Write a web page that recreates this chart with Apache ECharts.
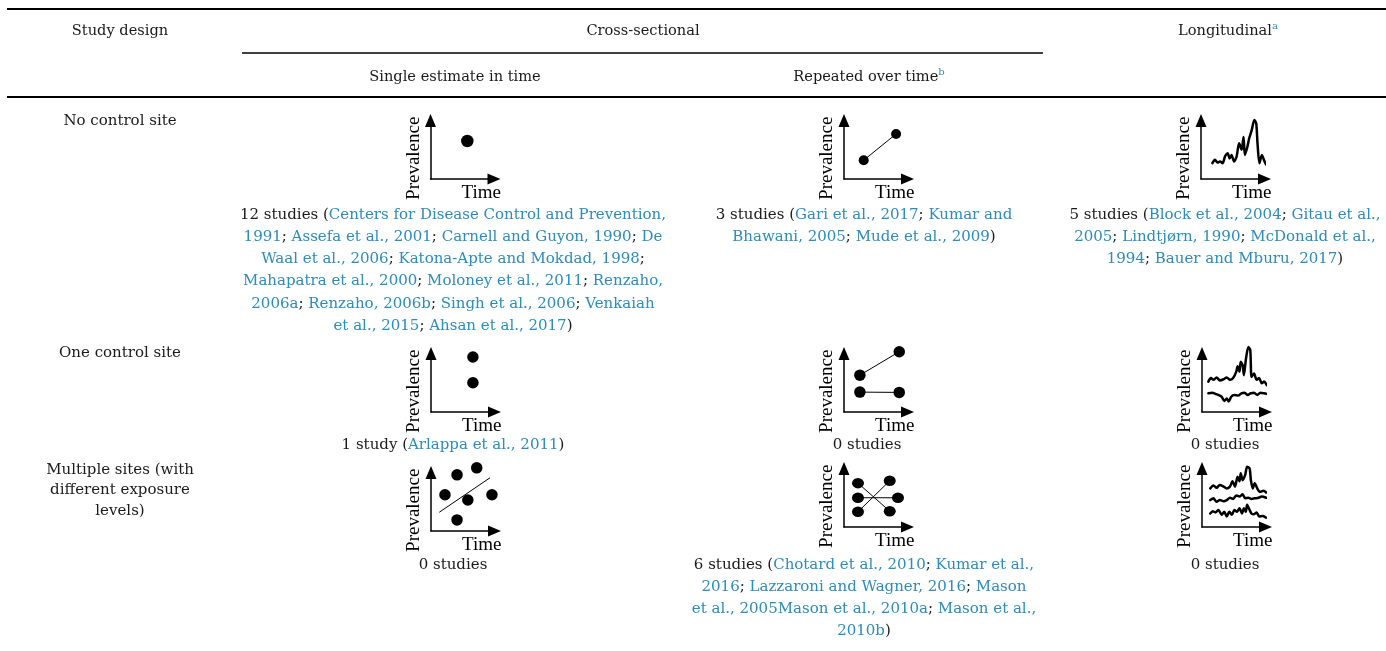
<!DOCTYPE html>
<html><head><meta charset="utf-8">
<script src="https://cdn.jsdelivr.net/npm/echarts@6/dist/echarts.min.js"></script>
<style>html,body{margin:0;padding:0;background:#fff}#c{width:1386px;height:651px}</style>
</head><body><div id="c"></div><script>
// ---------- table text ----------
const headerTop = ['Study design', 'Cross-sectional', 'Longitudinal'];
const headerSup = ['a', 'b'];
const headerSub = ['Single estimate in time', 'Repeated over time'];
const rowLabels = [
  ['No control site'],
  ['One control site'],
  ['Multiple sites (with', 'different exposure', 'levels)']
];
// [..] marks a linked (blue) reference
const r1c1Text = [
  '12 studies ([Centers for Disease Control and Prevention,]',
  '[1991]; [Assefa et al., 2001]; [Carnell and Guyon, 1990]; [De]',
  '[Waal et al., 2006]; [Katona-Apte and Mokdad, 1998];',
  '[Mahapatra et al., 2000]; [Moloney et al., 2011]; [Renzaho,]',
  '[2006a]; [Renzaho, 2006b]; [Singh et al., 2006]; [Venkaiah]',
  '[et al., 2015]; [Ahsan et al., 2017])'
];
const r1c2Text = ['3 studies ([Gari et al., 2017]; [Kumar and]', '[Bhawani, 2005]; [Mude et al., 2009])'];
const r1c3Text = ['5 studies ([Block et al., 2004]; [Gitau et al.,]', '[2005]; [Lindtjørn, 1990]; [McDonald et al.,]', '[1994]; [Bauer and Mburu, 2017])'];
const r2c1Text = ['1 study ([Arlappa et al., 2011])'];
const r2c2Text = ['0 studies'];
const r2c3Text = ['0 studies'];
const r3c1Text = ['0 studies'];
const r3c2Text = ['6 studies ([Chotard et al., 2010]; [Kumar et al.,]', '[2016]; [Lazzaroni and Wagner, 2016]; [Mason]', '[et al., 2005Mason et al., 2010a]; [Mason et al.,]', '[2010b])'];
const r3c3Text = ['0 studies'];
const axisNames = ['Time', 'Prevalence'];

// ---------- mini-chart data (0–10 schematic scale) ----------
const r1c1Points = [[5.8, 6.5]];
const r1c2Line = [[3.1, 3.2], [8.2, 7.7]];
const r1c3Wave = [[1.8,2.7],[2.2,3.3],[2.6,2.8],[3.0,3.0],[3.4,2.7],[3.8,3.9],[4.2,4.4],[4.5,3.5],[4.8,4.1],[5.2,3.0],[5.6,3.8],[6.0,6.1],[6.4,5.0],[6.7,7.2],[6.9,4.1],[7.3,5.5],[7.6,7.0],[8.0,8.4],[8.4,10.1],[8.7,9.5],[8.9,6.1],[9.2,2.7],[9.6,4.1],[9.9,3.3],[10.3,2.4],[10.9,2.1],[11.4,1.7]];
const r2c1Points = [[6.6, 9.4], [6.6, 5.0]];
const r2c2LineA = [[2.5, 6.3], [8.7, 10.3]];
const r2c2LineB = [[2.5, 3.4], [8.7, 3.35]];
const r2c3WaveA = [[1.0,5.2],[1.4,5.8],[1.8,5.5],[2.3,5.9],[2.8,5.4],[3.4,5.6],[3.9,5.9],[4.4,5.5],[4.9,5.8],[5.4,6.9],[5.6,7.8],[5.9,6.9],[6.1,8.6],[6.4,8.0],[6.6,6.3],[6.9,8.9],[7.3,11.1],[7.6,10.6],[7.8,6.0],[8.2,6.6],[8.6,5.5],[9.0,5.8],[9.4,4.9],[9.8,5.2],[10.2,4.6]];
const r2c3WaveB = [[1.0,3.2],[1.6,3.3],[2.1,3.1],[2.6,2.9],[3.1,2.6],[3.5,1.9],[3.9,2.3],[4.2,1.8],[4.6,2.6],[5.1,2.9],[5.7,2.8],[6.2,3.2],[6.7,3.3],[7.2,2.9],[7.7,3.2],[8.2,3.3],[8.7,2.9],[9.2,3.3],[9.8,3.2],[10.2,3.1]];
const r3c1Points = [[4.1,9.6],[7.2,10.8],[2.2,6.2],[5.8,5.3],[9.6,6.2],[4.1,1.9]];
const r3c1Trend = [[1.3,3.2],[9.3,9.1]];
const r3c2LineA = [[2.2,7.5],[7.2,2.7]];
const r3c2LineB = [[2.2,2.6],[7.2,7.9]];
const r3c2LineC = [[2.2,5.0],[8.5,5.0]];
const r3c3WaveA = [[1.3,6.6],[1.8,7.1],[2.3,6.7],[2.8,7.2],[3.4,6.9],[3.9,6.6],[4.4,6.9],[4.8,7.8],[5.2,6.9],[5.6,8.6],[5.9,7.8],[6.1,9.2],[6.4,8.0],[6.8,8.9],[7.1,10.3],[7.5,10.0],[7.7,8.0],[8.0,6.6],[8.3,7.5],[8.7,6.6],[9.1,6.0],[9.7,6.2],[10.1,5.9]];
const r3c3WaveB = [[1.3,4.6],[1.8,4.9],[2.3,4.3],[2.8,4.6],[3.4,4.4],[3.9,4.6],[4.4,5.0],[4.9,4.8],[5.4,5.4],[5.9,5.2],[6.4,5.6],[6.8,4.9],[7.3,5.0],[7.8,4.8],[8.3,4.9],[8.9,5.0],[9.4,5.2],[10.1,5.0]];
const r3c3WaveC = [[1.3,2.3],[1.7,2.7],[2.1,2.5],[2.6,2.9],[3.1,2.1],[3.5,2.6],[3.9,1.8],[4.3,2.6],[4.7,2.1],[5.1,2.9],[5.5,2.6],[5.9,3.2],[6.3,2.3],[6.6,3.2],[6.9,2.6],[7.1,3.8],[7.5,2.9],[7.8,2.3],[8.2,2.2],[8.6,2.5],[9.0,1.8],[9.6,1.9],[10.1,1.6]];

// ---------- styling / layout ----------
const FONT = '"DejaVu Serif", serif';
const INK = '#1a1a1a';
const LINK = '#2a8cc0';
const W = 63.5, H = 58.5;

function dot(data, size) {
  return {type: 'scatter', data: data, symbol: 'circle', symbolSize: size, itemStyle: {color: '#000', opacity: 1}, clip: false, silent: true};
}
function seg(data, size, width) {
  return {type: 'line', data: data, symbol: 'circle', symbolSize: size, showSymbol: true,
    lineStyle: {color: '#000', width: width}, itemStyle: {color: '#000', opacity: 1}, clip: false, silent: true};
}
function wave(data) {
  return {type: 'line', data: data, symbol: 'none', showSymbol: false, smooth: 0.25,
    lineStyle: {color: '#000', width: 2.5, join: 'round', cap: 'round'}, clip: false, silent: true};
}

const panels = [
  {o: [430.5, 179], s: [dot(r1c1Points, 12.5)]},
  {o: [844, 179], s: [seg(r1c2Line, 10, 1)]},
  {o: [1201, 179], s: [wave(r1c3Wave)]},
  {o: [431, 412], s: [dot(r2c1Points, 11.5)]},
  {o: [844, 412], s: [seg(r2c2LineA, 11.5, 1), seg(r2c2LineB, 11.5, 1)]},
  {o: [1202, 412], s: [wave(r2c3WaveA), wave(r2c3WaveB)]},
  {o: [431, 531], s: [{type: 'line', data: r3c1Trend, symbol: 'none', lineStyle: {color: '#000', width: 1}, clip: false, silent: true}, dot(r3c1Points, 11.5)]},
  {o: [844, 527], s: [seg(r3c2LineA, [12, 10.5], 1), seg(r3c2LineB, [12, 10.5], 1), seg(r3c2LineC, [12, 10.5], 1)]},
  {o: [1202, 527], s: [wave(r3c3WaveA), wave(r3c3WaveB), wave(r3c3WaveC)]}
];

const grid = [], xAxis = [], yAxis = [], series = [];
const axLine = {show: true, symbol: ['none', 'triangle'], symbolSize: [11, 13], lineStyle: {color: '#000', width: 1.5}};
const nameStyle = {fontFamily: '"Liberation Serif", serif', fontSize: 19, color: '#000'};
panels.forEach(function (p, i) {
  grid.push({left: p.o[0], top: p.o[1] - H, width: W, height: H});
  xAxis.push({gridIndex: i, type: 'value', min: 0, max: 10, axisLine: axLine, axisTick: {show: false},
    axisLabel: {show: false}, splitLine: {show: false}, name: axisNames[0], nameLocation: 'middle', nameGap: 5,
    nameTextStyle: Object.assign({padding: [0, 0, 0, 38]}, nameStyle)});
  yAxis.push({gridIndex: i, type: 'value', min: 0, max: 10, axisLine: axLine, axisTick: {show: false},
    axisLabel: {show: false}, splitLine: {show: false}, name: axisNames[1], nameLocation: 'middle', nameGap: 7,
    nameTextStyle: Object.assign({padding: [0, 17, 0, 0]}, nameStyle)});
  p.s.forEach(function (s) { series.push(Object.assign({xAxisIndex: i, yAxisIndex: i}, s)); });
});

// ---------- table graphics ----------
function toRich(lines) {
  return lines.map(function (line) {
    let out = '', last = 0, m;
    const re = /\[([^\]]*)\]/g;
    while ((m = re.exec(line))) {
      if (m.index > last) out += '{k|' + line.slice(last, m.index) + '}';
      out += '{b|' + m[1] + '}';
      last = re.lastIndex;
    }
    if (last < line.length) out += '{k|' + line.slice(last) + '}';
    return out;
  }).join('\n');
}
const LH = 22.2;
const FS = 15;
const richStyles = {
  k: {fill: INK, fontSize: FS, fontFamily: FONT, lineHeight: LH},
  b: {fill: LINK, fontSize: FS, fontFamily: FONT, lineHeight: LH},
  h: {fill: INK, fontSize: 14.6, fontFamily: FONT, lineHeight: 20},
  sup: {fill: LINK, fontSize: 10, fontFamily: FONT, lineHeight: 20, verticalAlign: 'top'}
};
function cell(lines, cx, firstY, lh) {
  lh = lh || LH;
  return {type: 'text', x: cx, y: firstY - lh / 2, silent: true,
    style: {text: toRich(lines), align: 'center', verticalAlign: 'top', rich: richStyles, fill: INK, font: FS + 'px ' + FONT}};
}
function label(text, cx, cy) {
  return {type: 'text', x: cx, y: cy, silent: true,
    style: {text: text, align: 'center', verticalAlign: 'middle', rich: richStyles, fill: INK, font: '14.6px ' + FONT}};
}
function rule(x1, x2, y, w) {
  return {type: 'line', silent: true, shape: {x1: x1, y1: y, x2: x2, y2: y}, style: {stroke: '#000', lineWidth: w}};
}
function labelLines(lines, cx, firstY, lh) {
  return {type: 'text', x: cx, y: firstY - lh / 2, silent: true,
    style: {text: lines.join('\n'), align: 'center', verticalAlign: 'top', fill: INK, font: FS + 'px ' + FONT, lineHeight: lh}};
}

const graphic = [
  rule(7, 1386, 9, 2),
  rule(242, 1043, 53, 1.6),
  rule(7, 1386, 97, 2),
  label('{h|' + headerTop[0] + '}', 120, 31),
  label('{h|' + headerTop[1] + '}', 643, 31),
  label('{h|' + headerTop[2] + '}{sup|' + headerSup[0] + '}', 1228, 31),
  label('{h|' + headerSub[0] + '}', 455, 77),
  label('{h|' + headerSub[1] + '}{sup|' + headerSup[1] + '}', 869, 77),
  labelLines(rowLabels[0], 120, 121, 20.5),
  labelLines(rowLabels[1], 120, 353, 20.5),
  labelLines(rowLabels[2], 120, 470, 20.5),
  cell(r1c1Text, 453, 215),
  cell(r1c2Text, 864, 215),
  cell(r1c3Text, 1225, 215),
  cell(r2c1Text, 453, 445),
  cell(r2c2Text, 867, 445),
  cell(r2c3Text, 1225, 445),
  cell(r3c1Text, 453, 565),
  cell(r3c2Text, 864, 565),
  cell(r3c3Text, 1225, 565)
];

const chart = echarts.init(document.getElementById('c'), null, {renderer: 'canvas'});
chart.setOption({
  animation: false,
  backgroundColor: '#fff',
  grid: grid, xAxis: xAxis, yAxis: yAxis, series: series,
  graphic: graphic
});
</script></body></html>
